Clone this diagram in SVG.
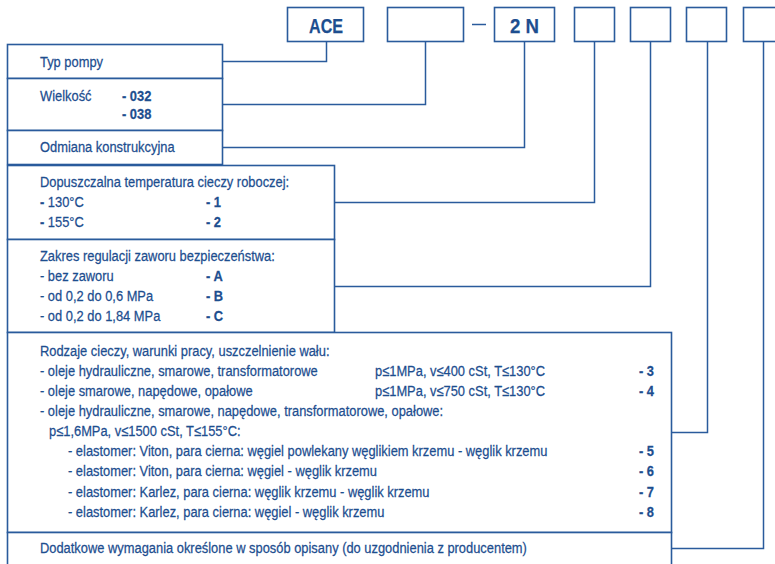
<svg xmlns="http://www.w3.org/2000/svg" width="775" height="564" viewBox="0 0 775 564">
<style>
  .box { fill: #ffffff; stroke: #2a5b9c; stroke-width: 1.6; }
  .ln { fill: none; stroke: #2a5b9c; stroke-width: 1.5; }
  text { font-family: "Liberation Sans", Arial, sans-serif; font-size: 15px; fill: #1d4e8f; stroke: #1d4e8f; stroke-width: 0.25; }
  .t { transform: scaleX(0.86); transform-box: fill-box; transform-origin: 0 50%; }
  .b { font-weight: bold; }
  .h { font-size: 21px; font-weight: bold; }
</style>
<rect width="775" height="564" fill="#ffffff"/>

<g id="code">
  <rect class="box" x="287.5" y="7.5" width="76" height="34"/>
  <text class="h" x="309" y="32.5" textLength="34" lengthAdjust="spacingAndGlyphs">ACE</text>
  <rect class="box" x="387.5" y="7.5" width="76" height="34"/>
  <line class="ln" x1="472" y1="24.5" x2="486" y2="24.5"/>
  <rect class="box" x="494.5" y="7.5" width="60" height="34"/>
  <text class="h" x="510" y="32.5" textLength="29" lengthAdjust="spacingAndGlyphs">2 N</text>
  <rect class="box" x="574.5" y="7.5" width="40" height="34"/>
  <rect class="box" x="630.5" y="7.5" width="40" height="34"/>
  <rect class="box" x="686.5" y="7.5" width="40" height="34"/>
  <rect class="box" x="743.5" y="7.5" width="40" height="34"/>
</g>

<g id="connectors">
  <path class="ln" d="M222,61.5 H326.5 V41.5"/>
  <path class="ln" d="M222,104.5 H425.5 V41.5"/>
  <path class="ln" d="M222,147.5 H524.5 V41.5"/>
  <path class="ln" d="M335,202.5 H594.5 V41.5"/>
  <path class="ln" d="M335,286.5 H650.5 V41.5"/>
  <path class="ln" d="M672,432.5 H707.5 V41.5"/>
  <path class="ln" d="M672,548.5 H763.5 V41.5"/>
</g>

<g id="typ-pompy">
  <rect class="box" x="7.5" y="44.5" width="215" height="34"/>
  <text class="t" x="40" y="67">Typ pompy</text>
</g>
<g id="wielkosc">
  <rect class="box" x="7.5" y="78.5" width="215" height="52"/>
  <text class="t" x="40" y="101">Wielkość</text>
  <text class="t b" x="122" y="101">- 032</text>
  <text class="t b" x="122" y="119">- 038</text>
</g>
<g id="odmiana">
  <rect class="box" x="7.5" y="130.5" width="215" height="34"/>
  <text class="t" x="40" y="152">Odmiana konstrukcyjna</text>
</g>

<g id="temperatura">
  <rect class="box" x="7.5" y="165.5" width="327" height="74"/>
  <text class="t" x="40" y="187">Dopuszczalna temperatura cieczy roboczej:</text>
  <text class="t" x="40" y="207"><tspan class="b">-</tspan> 130°C</text>
  <text class="t b" x="206" y="207">- 1</text>
  <text class="t" x="40" y="227"><tspan class="b">-</tspan> 155°C</text>
  <text class="t b" x="206" y="227">- 2</text>
</g>

<g id="zawor">
  <rect class="box" x="7.5" y="239.5" width="327" height="93"/>
  <text class="t" x="40" y="261">Zakres regulacji zaworu bezpieczeństwa:</text>
  <text class="t" x="40" y="281">- bez zaworu</text>
  <text class="t b" x="206" y="281">- A</text>
  <text class="t" x="40" y="301">- od 0,2 do 0,6 MPa</text>
  <text class="t b" x="206" y="301">- B</text>
  <text class="t" x="40" y="321">- od 0,2 do 1,84 MPa</text>
  <text class="t b" x="206" y="321">- C</text>
</g>

<g id="rodzaje-cieczy">
  <rect class="box" x="7.5" y="332.5" width="664" height="200"/>
  <text class="t" x="40" y="356">Rodzaje cieczy, warunki pracy, uszczelnienie wału:</text>
  <text class="t" x="40" y="376">- oleje hydrauliczne, smarowe, transformatorowe</text>
  <text class="t" x="375" y="376">p≤1MPa, v≤400 cSt, T≤130°C</text>
  <text class="t b" x="639" y="376">- 3</text>
  <text class="t" x="40" y="396">- oleje smarowe, napędowe, opałowe</text>
  <text class="t" x="375" y="396">p≤1MPa, v≤750 cSt, T≤130°C</text>
  <text class="t b" x="639" y="396">- 4</text>
  <text class="t" x="40" y="416">- oleje hydrauliczne, smarowe, napędowe, transformatorowe, opałowe:</text>
  <text class="t" x="49" y="436">p≤1,6MPa, v≤1500 cSt, T≤155°C:</text>
  <text class="t" x="68" y="456">- elastomer: Viton, para cierna: węgiel powlekany węglikiem krzemu - węglik krzemu</text>
  <text class="t b" x="639" y="456">- 5</text>
  <text class="t" x="68" y="476">- elastomer: Viton, para cierna: węgiel - węglik krzemu</text>
  <text class="t b" x="639" y="476">- 6</text>
  <text class="t" x="68" y="497">- elastomer: Karlez, para cierna: węglik krzemu - węglik krzemu</text>
  <text class="t b" x="639" y="497">- 7</text>
  <text class="t" x="68" y="517">- elastomer: Karlez, para cierna: węgiel - węglik krzemu</text>
  <text class="t b" x="639" y="517">- 8</text>
</g>

<g id="dodatkowe">
  <rect class="box" x="7.5" y="532.5" width="664" height="40"/>
  <text class="t" x="40" y="553">Dodatkowe wymagania określone w sposób opisany (do uzgodnienia z producentem)</text>
</g>
</svg>
